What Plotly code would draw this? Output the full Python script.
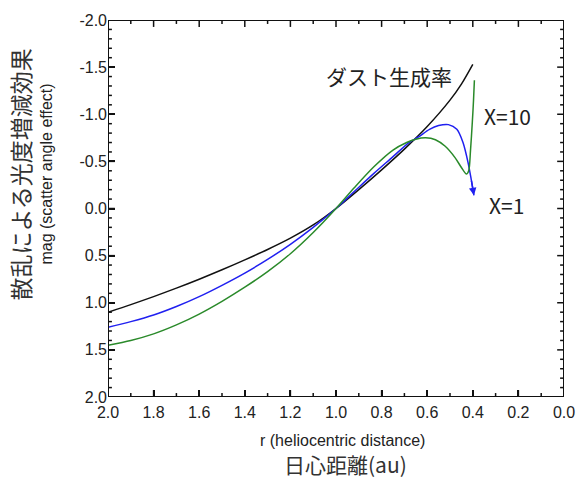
import plotly.graph_objects as go

# Dust production rate (black)
r_dust = [2.0, 1.9, 1.8, 1.7, 1.6, 1.5, 1.4, 1.3, 1.2, 1.1, 1.0, 0.9, 0.8, 0.7, 0.6, 0.5, 0.45, 0.4]
mag_dust = [1.10, 1.02, 0.935, 0.845, 0.75, 0.65, 0.545, 0.435, 0.315, 0.175, 0.0,
            -0.20, -0.41, -0.63, -0.87, -1.15, -1.32, -1.53]

# X=1 (blue)
r_x1 = [2.0, 1.9, 1.8, 1.7, 1.6, 1.5, 1.4, 1.3, 1.2, 1.1, 1.0, 0.92, 0.835, 0.75, 0.68, 0.638,
        0.59, 0.55, 0.507, 0.47, 0.443, 0.421, 0.407, 0.395]
mag_x1 = [1.26, 1.20, 1.13, 1.04, 0.935, 0.815, 0.685, 0.54, 0.38, 0.20, 0.0, -0.18, -0.37, -0.55, -0.70, -0.76,
          -0.84, -0.88, -0.89, -0.84, -0.70, -0.49, -0.31, -0.14]

# X=10 (green)
r_x10 = [2.0, 1.9, 1.8, 1.7, 1.6, 1.5, 1.4, 1.3, 1.2, 1.1, 1.0, 0.92, 0.835, 0.75, 0.69, 0.65,
         0.607, 0.564, 0.521, 0.478, 0.45, 0.428, 0.418, 0.41, 0.402, 0.397, 0.393]
mag_x10 = [1.45, 1.40, 1.33, 1.235, 1.12, 0.985, 0.835, 0.67, 0.48, 0.255, 0.0, -0.22, -0.44, -0.62, -0.70, -0.735,
           -0.75, -0.73, -0.66, -0.54, -0.435, -0.365, -0.40, -0.62, -0.92, -1.14, -1.36]

x_ticks = [2.0, 1.8, 1.6, 1.4, 1.2, 1.0, 0.8, 0.6, 0.4, 0.2, 0.0]
y_ticks = [-2.0, -1.5, -1.0, -0.5, 0.0, 0.5, 1.0, 1.5, 2.0]
x_minor = [round(0.1 * i, 1) for i in range(1, 20, 2)]
y_minor = [round(-2.0 + 0.1 * i, 1) for i in range(41) if i % 5 != 0]

X_RANGE = [2.0, 0.0]
Y_RANGE = [2.0, -2.0]
INK = "#111111"

fig = go.Figure()
fig.add_trace(go.Scatter(x=r_dust, y=mag_dust, mode="lines",
                         line=dict(color="#111111", width=1.5, shape="spline", smoothing=0.8),
                         showlegend=False))
fig.add_trace(go.Scatter(x=r_x1, y=mag_x1, mode="lines",
                         line=dict(color="#2020f0", width=1.5, shape="spline", smoothing=0.8),
                         showlegend=False))
fig.add_trace(go.Scatter(x=r_x10, y=mag_x10, mode="lines",
                         line=dict(color="#2a8a2a", width=1.5, shape="spline", smoothing=0.8),
                         showlegend=False))

# --- frame and inside tick marks drawn as line traces (derived from the axis ranges / tick lists)
x_lo, x_hi = X_RANGE[1], X_RANGE[0]
y_top, y_bot = Y_RANGE[1], Y_RANGE[0]
fig.add_trace(go.Scatter(x=[x_hi, x_lo, x_lo, x_hi, x_hi], y=[y_bot, y_bot, y_top, y_top, y_bot],
                         mode="lines", line=dict(color=INK, width=2), cliponaxis=False,
                         hoverinfo="skip", showlegend=False))

plot_w, plot_h = 467.0, 381.0
x_per_px = (x_hi - x_lo) / plot_w
y_per_px = (y_bot - y_top) / plot_h
tx, ty = [], []
for vals, ln in ((x_ticks, 7), (x_minor, 4)):
    d = ln * y_per_px
    for v in vals:
        tx += [v, v, None, v, v, None]
        ty += [y_bot, y_bot - d, None, y_top, y_top + d, None]
for vals, ln in ((y_ticks, 7), (y_minor, 4)):
    d = ln * x_per_px
    for v in vals:
        tx += [x_hi, x_hi - d, None, x_lo, x_lo + d, None]
        ty += [v, v, None, v, v, None]
fig.add_trace(go.Scatter(x=tx, y=ty, mode="lines", line=dict(color=INK, width=1.5),
                         cliponaxis=False, hoverinfo="skip", showlegend=False, connectgaps=False))

font_j = "Noto Sans CJK JP, Liberation Sans, sans-serif"
axis_common = dict(
    showgrid=False, zeroline=False, showline=False,
    ticks="inside", ticklen=7, tickwidth=1.5, tickcolor=INK,
    tickfont=dict(family="Liberation Sans, Arial", size=16, color="#222222"),
)
fig.update_xaxes(range=X_RANGE, tickvals=x_ticks, ticktext=[f"{v:.1f}" for v in x_ticks],
                 ticklabelstandoff=4, **axis_common)
fig.update_yaxes(range=Y_RANGE, tickvals=y_ticks, ticktext=[f"{v:.1f}" for v in y_ticks],
                 **axis_common)

ann = []
# arrow head at the end of the X=1 curve
ann.append(dict(x=r_x1[-1], y=mag_x1[-1], ax=r_x1[-2], ay=mag_x1[-2], xref="x", yref="y",
                axref="x", ayref="y", text="", showarrow=True, arrowhead=2, arrowsize=1.0,
                arrowwidth=1.5, arrowcolor="#2020f0", standoff=0))
ann.append(dict(text="ダスト生成率", x=0.767, y=-1.41, xref="x", yref="y", showarrow=False,
                font=dict(family=font_j, size=21, color="#222222")))
ann.append(dict(text="X=10", x=0.248, y=-0.98, xref="x", yref="y", showarrow=False,
                font=dict(family=font_j, size=21, color="#222222")))
ann.append(dict(text="X=1", x=0.253, y=-0.04, xref="x", yref="y", showarrow=False,
                font=dict(family=font_j, size=21, color="#222222")))
ann.append(dict(text="散乱による光度増減効果", x=0, y=0.59, xref="paper", yref="paper",
                xanchor="center", yanchor="middle", xshift=-88, textangle=-90, showarrow=False,
                font=dict(family=font_j, size=23, color="#333333")))
ann.append(dict(text="mag (scatter angle effect)", x=0, y=0.59, xref="paper", yref="paper",
                xanchor="center", yanchor="middle", xshift=-61, textangle=-90, showarrow=False,
                font=dict(family="Liberation Sans, Arial", size=16, color="#222222")))
ann.append(dict(text="r (heliocentric distance)", x=0.514, y=0, xref="paper", yref="paper",
                xanchor="center", yanchor="middle", yshift=-43, showarrow=False,
                font=dict(family="Liberation Sans, Arial", size=16, color="#222222")))
ann.append(dict(text="日心距離(au)", x=0.52, y=0, xref="paper", yref="paper",
                xanchor="center", yanchor="middle", yshift=-67, showarrow=False,
                font=dict(family=font_j, size=21, color="#333333")))

fig.update_layout(
    width=587, height=478,
    margin=dict(l=108, r=12, t=16, b=81),
    paper_bgcolor="#ffffff", plot_bgcolor="#ffffff",
    annotations=ann,
)

fig.write_html("out.html")
